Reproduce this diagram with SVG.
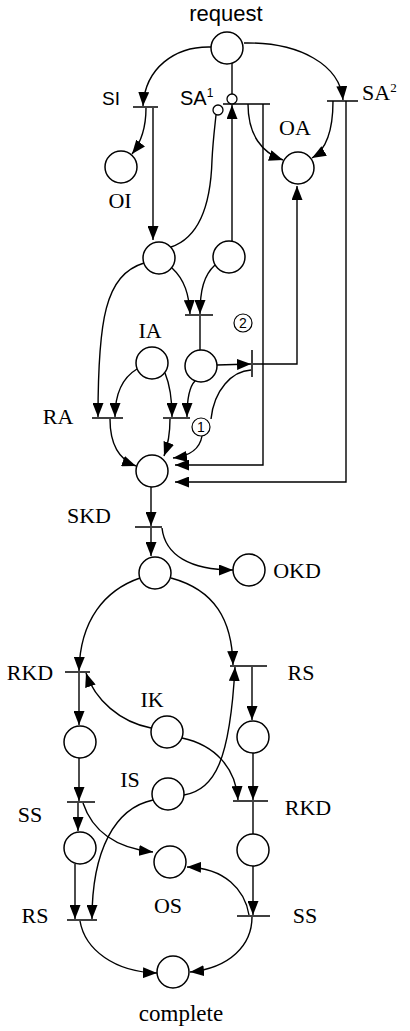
<svg xmlns="http://www.w3.org/2000/svg" width="410" height="1031" viewBox="0 0 410 1031">
<style>
.pl{fill:#fff;stroke:#000;stroke-width:1.5}
.tr{stroke:#000;stroke-width:1.5;fill:none}
.ed{fill:none;stroke:#000;stroke-width:1.4}
.ar{marker-end:url(#ah)}
.tst{fill:#fff;stroke:#000;stroke-width:1.3}
.mk{fill:#fff;stroke:#000;stroke-width:1.2}
.sf{font-family:"Liberation Serif","Times New Roman",serif;font-size:22px;fill:#000;text-anchor:middle}
.ss{font-family:"Liberation Sans",Arial,sans-serif;font-size:20px;fill:#000}
.num{font-family:"Liberation Sans",Arial,sans-serif;font-size:14px;fill:#000;text-anchor:middle}
</style>
<defs>
<marker id="ah" viewBox="0 0 14 11" refX="14" refY="5.5" markerWidth="14" markerHeight="11" markerUnits="userSpaceOnUse" orient="auto">
<path d="M0,0 L14,5.5 L0,11 z" fill="#000"/>
</marker>
</defs>

<!-- arcs between places and transitions -->
<g id="connectors">
<!-- request -->
<path class="ed ar" d="M211,47 C175,46 145,68 143,106"/>
<path class="ed" d="M232,63 L232,94"/>
<path class="ed ar" d="M244,43 C300,42 340,65 343,100"/>
<!-- SI -->
<path class="ed ar" d="M146,108 C146,125 143,140 132,154"/>
<path class="ed ar" d="M153,108 L153,240"/>
<!-- SA1 -->
<path class="ed" d="M171,247 C204,236 211,195 212,160 C213,140 215,125 216,115"/>
<path class="ed ar" d="M232,241 L232,105"/>
<path class="ed ar" d="M248,104 C248,135 262,153 283,160"/>
<path class="ed ar" d="M263,104 L263,465 L175,465"/>
<!-- SA2 -->
<path class="ed ar" d="M333,101 C333,130 326,150 312,158"/>
<path class="ed ar" d="M346,101 L346,482 L175,482"/>
<!-- A1 / A2 -->
<path class="ed ar" d="M144,263 C105,275 98,320 98,417"/>
<path class="ed ar" d="M172,268 C185,280 189,295 190,314"/>
<path class="ed ar" d="M215,265 C204,275 200,290 200,314"/>
<path class="ed" d="M200,316 L200,350"/>
<!-- transition 2 -->
<path class="ed ar" d="M217,365 L251,364"/>
<path class="ed ar" d="M253,364 L297,364 L297,186"/>
<path class="ed" d="M251,370 C232,371 214,390 211,419"/>
<path class="ed ar" d="M202,436 C200,448 190,456 173,458"/>
<!-- IA / RA -->
<path class="ed ar" d="M137,369 C122,378 115,395 115,417"/>
<path class="ed ar" d="M165,373 C170,385 172,400 172,417"/>
<path class="ed ar" d="M195,381 C189,387 187,400 187,417"/>
<path class="ed ar" d="M110,419 C110,445 120,460 136,466"/>
<path class="ed ar" d="M170,419 C170,435 168,445 164,456"/>
<!-- SKD -->
<path class="ed ar" d="M151,487 L151,526"/>
<path class="ed ar" d="M151,528 L151,556"/>
<path class="ed ar" d="M162,528 C165,555 190,570 233,570"/>
<!-- K1 -->
<path class="ed ar" d="M140,578 C105,590 80,620 79,671"/>
<path class="ed ar" d="M171,578 C215,590 232,620 233,665"/>
<!-- left branch -->
<path class="ed ar" d="M151,728 C120,722 95,700 86,673"/>
<path class="ed ar" d="M79,673 L79,725"/>
<path class="ed ar" d="M79,758 L79,801"/>
<path class="ed ar" d="M78,803 L78,831"/>
<path class="ed ar" d="M75,864 L75,919"/>
<path class="ed ar" d="M83,803 C92,830 115,848 153,852"/>
<path class="ed ar" d="M153,800 C115,808 92,850 92,919"/>
<path class="ed ar" d="M80,921 C85,950 115,972 157,973"/>
<!-- right branch -->
<path class="ed ar" d="M182,738 C215,745 236,768 238,800"/>
<path class="ed ar" d="M184,795 C215,790 230,760 235,667"/>
<path class="ed ar" d="M252,667 L252,720"/>
<path class="ed ar" d="M253,753 L253,800"/>
<path class="ed" d="M253,802 L253,834"/>
<path class="ed ar" d="M253,866 L253,915"/>
<path class="ed ar" d="M249,915 C245,890 225,868 187,867"/>
<path class="ed ar" d="M252,917 C252,945 230,968 190,972"/>
</g>

<!-- places -->
<g id="request"><circle class="pl" cx="227" cy="48" r="16"/><text class="ss" x="226" y="21" style="text-anchor:middle;font-size:22px">request</text></g>
<g id="OI"><circle class="pl" cx="121" cy="167" r="16"/><text class="sf" x="120" y="208">OI</text></g>
<g id="OA"><circle class="pl" cx="298" cy="168" r="16"/><text class="sf" x="295" y="135">OA</text></g>
<g id="A1"><circle class="pl" cx="159" cy="258" r="16"/></g>
<g id="A2"><circle class="pl" cx="229" cy="257" r="16"/></g>
<g id="IA"><circle class="pl" cx="152" cy="363" r="16"/><text class="sf" x="150" y="338">IA</text></g>
<g id="P"><circle class="pl" cx="201" cy="366" r="16"/></g>
<g id="C"><circle class="pl" cx="152" cy="471" r="16"/></g>
<g id="K1"><circle class="pl" cx="155" cy="573" r="16"/></g>
<g id="OKD"><circle class="pl" cx="249" cy="570" r="16"/><text class="sf" x="297" y="578">OKD</text></g>
<g id="L1"><circle class="pl" cx="80" cy="742" r="16"/></g>
<g id="IK"><circle class="pl" cx="167" cy="732" r="16"/><text class="sf" x="152" y="707">IK</text></g>
<g id="R1"><circle class="pl" cx="253" cy="737" r="16"/></g>
<g id="IS"><circle class="pl" cx="168" cy="794" r="16"/><text class="sf" x="130" y="787">IS</text></g>
<g id="L2"><circle class="pl" cx="80" cy="848" r="16"/></g>
<g id="OS"><circle class="pl" cx="170" cy="862" r="16"/><text class="sf" x="168" y="913">OS</text></g>
<g id="R2"><circle class="pl" cx="253" cy="850" r="16"/></g>
<g id="complete"><circle class="pl" cx="173" cy="972" r="16"/><text class="sf" x="181" y="1021" style="font-size:23px">complete</text></g>

<!-- transitions -->
<g id="SI"><path class="tr" d="M133,107 H158"/><text class="ss" x="111" y="105" style="text-anchor:middle;font-size:19px">SI</text></g>
<g id="SA1"><path class="tr" d="M223,104 H270"/><circle class="tst" cx="232" cy="99" r="5"/><circle class="tst" cx="218" cy="110" r="5"/><text class="ss" x="180" y="105">SA<tspan style="font-size:12px" dy="-8">1</tspan></text></g>
<g id="SA2"><path class="tr" d="M327,101 H358"/><text class="sf" x="362" y="100" style="text-anchor:start">SA<tspan style="font-size:13px" dy="-8">2</tspan></text></g>
<g id="TA"><path class="tr" d="M185,315 H213"/></g>
<g id="T2"><path class="tr" d="M252,350 V377"/><circle class="mk" cx="243" cy="323" r="9"/><text class="num" x="243" y="328">2</text></g>
<g id="T1"><circle class="mk" cx="201" cy="427" r="9"/><text class="num" x="201" y="432">1</text></g>
<g id="RA"><path class="tr" d="M92,418 H123"/><text class="sf" x="58" y="424">RA</text></g>
<g id="RA2"><path class="tr" d="M163,418 H190"/></g>
<g id="SKD"><path class="tr" d="M135,527 H162"/><text class="sf" x="89" y="523">SKD</text></g>
<g id="RKD1"><path class="tr" d="M65,672 H90"/><text class="sf" x="30" y="680">RKD</text></g>
<g id="RS1"><path class="tr" d="M230,666 H267"/><text class="sf" x="301" y="680">RS</text></g>
<g id="SS1"><path class="tr" d="M67,802 H95"/><text class="sf" x="30" y="822">SS</text></g>
<g id="RKD2"><path class="tr" d="M233,801 H268"/><text class="sf" x="308" y="815">RKD</text></g>
<g id="RS2"><path class="tr" d="M67,920 H97"/><text class="sf" x="35" y="923">RS</text></g>
<g id="SS2"><path class="tr" d="M237,916 H270"/><text class="sf" x="305" y="923">SS</text></g>
</svg>
